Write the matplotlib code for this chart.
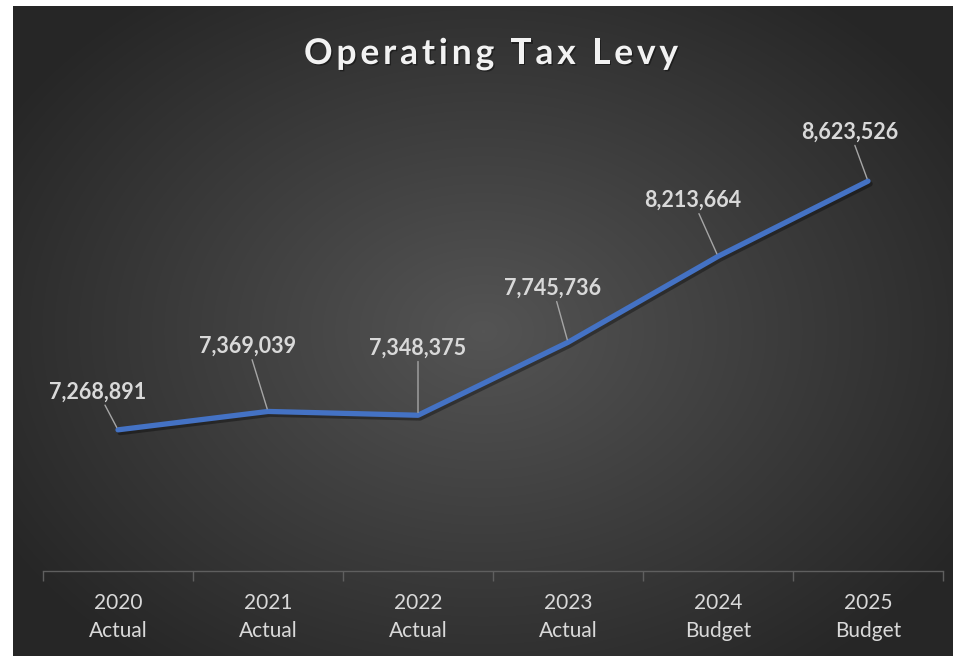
import numpy as np
import matplotlib
matplotlib.use('Agg')
import matplotlib.pyplot as plt
import matplotlib.patheffects as pe

years = ['2020', '2021', '2022', '2023', '2024', '2025']
kinds = ['Actual', 'Actual', 'Actual', 'Actual', 'Budget', 'Budget']
levy = [7268891, 7369039, 7348375, 7745736, 8213664, 8623526]

# label offsets in pixels (dx, dy) from each point
label_off = [(-20, 38), (-20, 65), (0, 67), (-15, 54), (-25, 56), (-18, 49)]

title = 'Operating Tax Levy'

plt.rcParams['font.family'] = ['Lato', 'DejaVu Sans']

fig = plt.figure(figsize=(9.54, 6.56), dpi=100)
fig.patch.set_facecolor('white')

# dark radial background
bg = fig.add_axes([13 / 954, 0, 941 / 954, 650 / 656])
bg.set_axis_off()
h, w = 650, 941
yy, xx = np.mgrid[0:h, 0:w]
cx, cy = 470, 325
r = np.sqrt(((xx - cx) / 560.0) ** 2 + ((yy - cy) / 420.0) ** 2)
r = np.clip(r, 0, 1)
shade = 0.33 - (0.33 - 0.15) * r
img = np.dstack([shade, shade, shade])
bg.imshow(img, aspect='auto', extent=[0, 1, 0, 1])
bg.set_xlim(0, 1)
bg.set_ylim(0, 1)

ax = fig.add_axes([43 / 954, 1 - 571 / 656, 900 / 954, 459 / 656])
ax.patch.set_visible(False)

x = np.arange(len(years))
ax.plot(x, levy, color='#4472C4', lw=3.8, solid_capstyle='round',
        solid_joinstyle='round', zorder=3,
        path_effects=[pe.SimpleLineShadow(offset=(1.5, -2), shadow_color='black', alpha=0.35),
                      pe.Normal()])

for i, v in enumerate(levy):
    dx, dy = label_off[i]
    ax.annotate(f'{v:,}', xy=(x[i], v), xytext=(dx * 0.72, dy * 0.72),
                textcoords='offset points', ha='center', va='center',
                fontsize=15.5, fontweight='bold', color='#d9d9d9',
                arrowprops=dict(arrowstyle='-', color='#a6a6a6', lw=1,
                                shrinkA=0, shrinkB=2), zorder=4)

ax.set_xlim(-0.5, len(years) - 0.5)
ax.set_ylim(6500000, 9000000)
ax.set_yticks([])
ax.set_xticks(x)
ax.set_xticklabels([f'{a}\n{b}' for a, b in zip(years, kinds)],
                   fontsize=15, color='#d9d9d9', linespacing=1.5)
ax.set_xticks(np.arange(-0.5, len(years)), minor=True)
ax.tick_params(axis='x', which='major', length=0, pad=16)
ax.tick_params(axis='x', which='minor', length=7, color='#5f5f5f', width=1)
for s in ['top', 'right', 'left']:
    ax.spines[s].set_visible(False)
ax.spines['bottom'].set_color('#5f5f5f')
ax.spines['bottom'].set_linewidth(1)

# title with letter spacing, drawn char by char
renderer = fig.canvas.get_renderer()
tkw = dict(fontsize=25.5, fontweight='bold', color='#f2f2f2')


def text_w(s):
    t = fig.text(0, 0, s, **tkw)
    wd = t.get_window_extent(renderer).width
    t.remove()
    return wd


bar_w = text_w('|')
adv = [text_w(title[:k] + '|') - bar_w for k in range(len(title))]
full_w = text_w(title)
target_w = 374
extra = (target_w - full_w) / (len(title) - 1)
x0 = 304
baseline = 64
for k, ch in enumerate(title):
    if ch == ' ':
        continue
    fig.text((x0 + adv[k] + k * extra) / 954, 1 - baseline / 656, ch,
             ha='left', va='baseline', **tkw,
             path_effects=[pe.withSimplePatchShadow(offset=(1, -1), shadow_rgbFace='black', alpha=0.4)])

fig.savefig('out.png', dpi=100, facecolor=fig.get_facecolor())
